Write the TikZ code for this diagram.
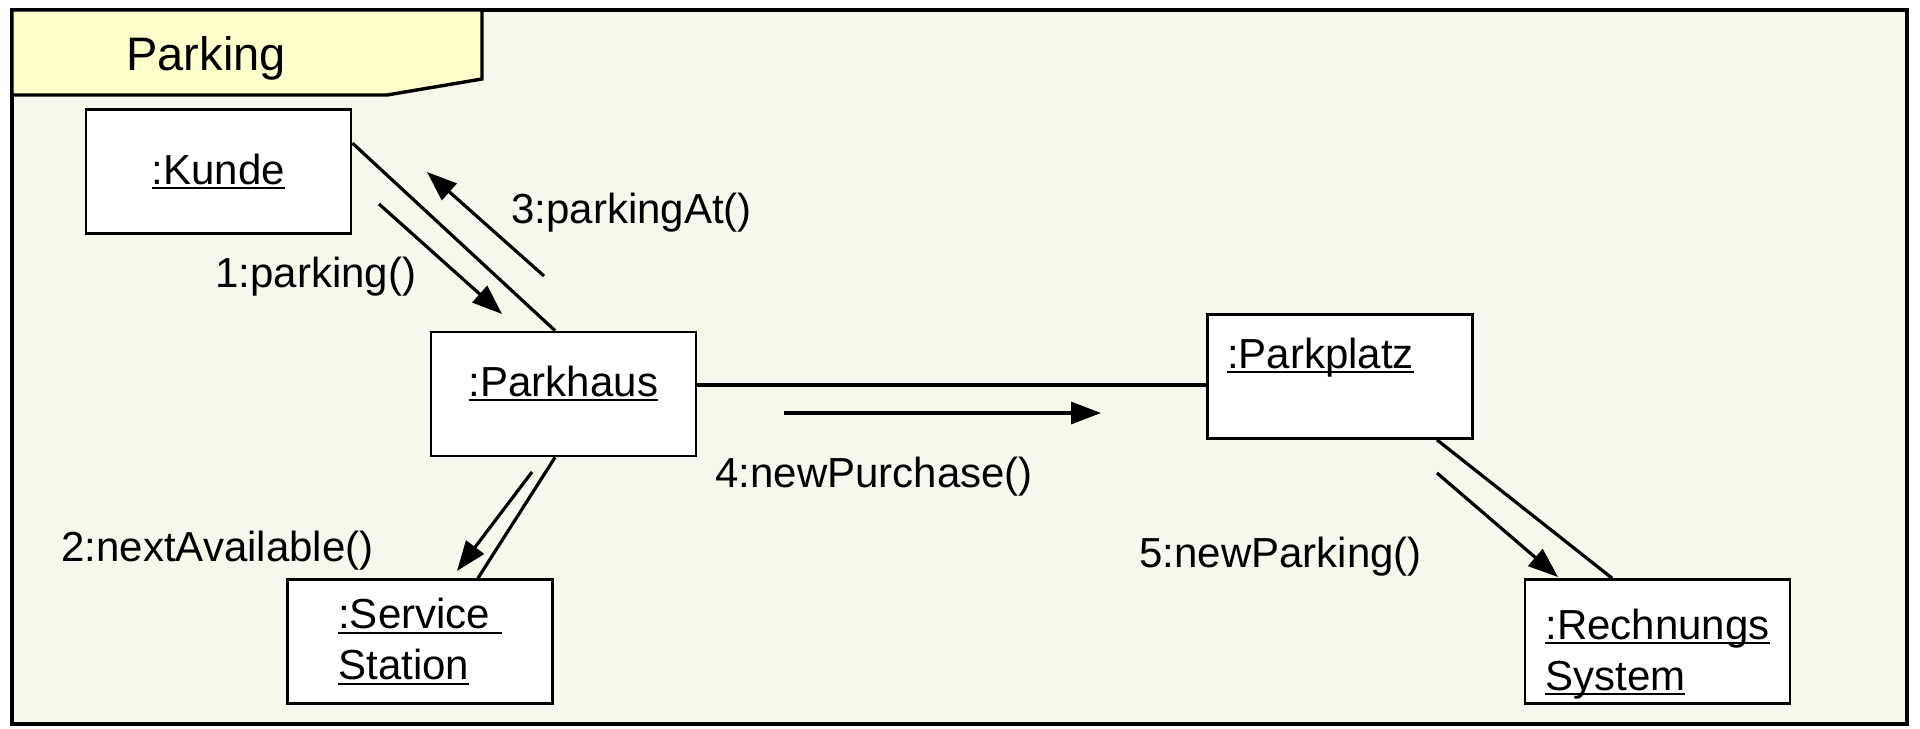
\documentclass[tikz,border=0pt]{standalone}
\usepackage{fontspec}
\setmainfont{Liberation Sans}
\usetikzlibrary{arrows.meta}
\newsavebox\ulbox
\newcommand{\ulined}[1]{\sbox\ulbox{#1}\rlap{\rule[-2.5pt]{\wd\ulbox}{1pt}}\usebox\ulbox}
\definecolor{framebg}{HTML}{F7F7EB}
\definecolor{tabbg}{HTML}{FFFFCC}

\begin{document}
\begin{tikzpicture}[x=0.5pt,y=-0.5pt,>={Triangle[length=15pt,width=11pt]},
    obj/.style={draw,fill=white,line width=1.4pt,minimum width=132.5pt,minimum height=62pt,
        align=left,font=\fontsize{21}{25.5}\selectfont},
    msg/.style={font=\fontsize{21}{25.5}\selectfont,anchor=base west,inner sep=0pt},
    link/.style={line width=1.6pt}]
    \useasboundingbox (0,0) rectangle (1920,728);
    \draw[line width=1.7pt,fill=framebg] (12,10) rectangle (1907,724);
    \draw[line width=1.7pt,fill=tabbg] (12,10)--(482,10)--(482,79)--(387,95)--(12,95)--cycle;
    \node[msg,font=\fontsize{23.5}{28}\selectfont] (title) at (126,70) {Parking};

    \node[obj] (kunde) at (218.5,171.5) {\ulined{:Kunde}};
    \node[obj,text height=16pt,text depth=14pt] (parkhaus) at (563.5,394) {\ulined{:Parkhaus}};
    \node[obj,text width=113pt,text height=16pt,text depth=24.5pt] (parkplatz) at (1340,376.5) {\ulined{:Parkplatz}};
    \node[obj] (service) at (420,641.5) {\ulined{:Service\ }\\\ulined{Station}};
    \node[obj,inner ysep=4pt,text height=50pt,text depth=1.5pt] (rechnung) at (1657.5,641.5) {\ulined{:Rechnungs}\\\ulined{System}};

    \draw[link] ([yshift=-17.5pt]kunde.north east)--([xshift=-4.25pt]parkhaus.north);
    \draw[link] ([xshift=-4.25pt]parkhaus.south)--([xshift=29pt]service.north);
    \draw[link] ([yshift=4.5pt]parkhaus.east)--([yshift=4.5pt]parkhaus.east -| parkplatz.west);
    \draw[link] ([xshift=48.5pt]parkplatz.south)--([xshift=-22.75pt]rechnung.north);

    \coordinate (m1a) at (379,204); \coordinate (m1b) at (502,314);
    \coordinate (m2a) at (532,472); \coordinate (m2b) at (457,571);
    \coordinate (m3a) at (544,276); \coordinate (m3b) at (427,172);
    \coordinate (m4a) at (784,413); \coordinate (m4b) at (1101,413);
    \coordinate (m5a) at (1437,473); \coordinate (m5b) at (1558,577);
    \draw[link,->] (m1a)--(m1b);
    \draw[link,->] (m2a)--(m2b);
    \draw[link,->] (m3a)--(m3b);
    \draw[link,->] (m4a)--(m4b);
    \draw[link,->] (m5a)--(m5b);

    \node[msg] (l1) at (215,287) {1:parking()};
    \node[msg] (l2) at (61,561) {2:nextAvailable()};
    \node[msg] (l3) at (511,223) {3:parkingAt()};
    \node[msg] (l4) at (715,487) {4:newPurchase()};
    \node[msg] (l5) at (1139,567) {5:newParking()};
\end{tikzpicture}
\end{document}
